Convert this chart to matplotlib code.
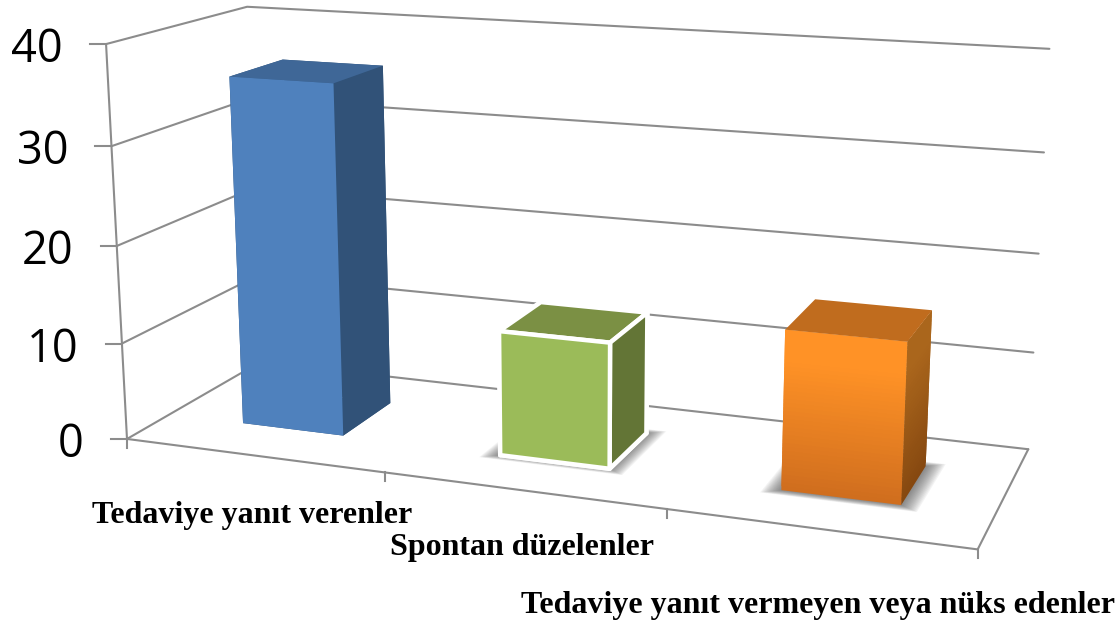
import numpy as np
import matplotlib
matplotlib.use('Agg')
import matplotlib.pyplot as plt
from matplotlib.lines import Line2D
from mpl_toolkits.mplot3d import proj3d
from mpl_toolkits.mplot3d.art3d import Poly3DCollection

categories = ['Tedaviye yanıt verenler', 'Spontan düzelenler', 'Tedaviye yanıt vermeyen veya nüks edenler']
values = [36, 12.7, 15.7]
z_ticks = [0, 10, 20, 30, 40]

# text position of each category label, in pixels of the 1115x621 picture
label_x = [92, 390, 521]
label_y = [515, 547, 606]

W, H = 1115, 621
# camera found by fitting the frame corners of the picture
ELEV, AZIM, ROLL, FOCAL = 14.094, -69.736, 0.030, 0.4131
ASPECT = (1, 0.3286, 0.4676)
SCALE, OX, OY = 5296.28, 574.276, 249.773

GRID = '#8c8c8c'
LW = 1.5
bar_w = 0.4
bar_d = 0.4
bar_y = 0.3

fig = plt.figure(figsize=(W / 100, H / 100), dpi=100, facecolor='w')
# the 2d view limits of a 3d axes are fixed at -0.095..0.09, so place the axes from them
side = SCALE * 0.185
ax = fig.add_axes([(OX - 0.095 * SCALE) / W, (H - (OY + 0.095 * SCALE)) / H, side / W, side / H],
                  projection='3d', computed_zorder=False)
ax.set_xlim(0, 3)
ax.set_ylim(0, 1)
ax.set_zlim(0, 40)
ax.view_init(ELEV, AZIM, ROLL)
ax.set_proj_type('persp', focal_length=FOCAL)
ax.set_box_aspect(ASPECT)
ax.set_axis_off()
M = ax.get_proj()


def line3(xs, ys, zs):
    ax.plot(xs, ys, zs, color=GRID, lw=LW, zorder=1, solid_capstyle='round')


def to2d(x, y, z):
    tx, ty, _ = proj3d.proj_transform(x, y, z, M)
    return tx, ty


def stub(x, y, z, dx_px, dy_px):
    tx, ty = to2d(x, y, z)
    ax.add_artist(Line2D([tx, tx + dx_px / SCALE], [ty, ty + dy_px / SCALE], color=GRID, lw=LW, zorder=1))


def quad(pts, color, alpha=None, zorder=3):
    ax.add_collection3d(Poly3DCollection([pts], facecolor=color, edgecolor='none', alpha=alpha, zorder=zorder))


# frame, grid and ticks
for z in z_ticks:
    line3([0, 0, 3], [0, 1, 1], [z, z, z])
    stub(0, 0, z, -16, 0)
    tx, ty = to2d(0, 0, z)
    ax.annotate(str(z), xy=(tx, ty), xycoords='data', xytext=(-43, -6), textcoords='offset pixels',
                ha='right', va='center', fontsize=32.5, family='Open Sans', color='k')
line3([0, 0], [0, 0], [0, 40])
line3([0, 3, 3], [0, 0, 1], [0, 0, 0])
for i in range(len(categories) + 1):
    stub(i, 0, 0, 0, -9)


def shadow(x, value_pad=0.06, layers=14):
    for k in range(layers):
        pad = value_pad * (1 - k / layers)
        pad_y = pad * 0.75
        x0, x1 = x - pad, x + bar_w + pad
        y0, y1 = bar_y - pad_y, bar_y + bar_d + pad_y
        quad([(x0, y0, 0), (x1, y0, 0), (x1, y1, 0), (x0, y1, 0)], '#404040', alpha=0.06, zorder=2)


# bar3d face order: bottom, top, front, back, left, right
x1, x2, x3 = 0.3, 1.3, 2.3

ax.bar3d(x1, bar_y, 0, bar_w, bar_d, values[0], shade=False, zorder=3,
         color=['#2f5279', '#3f6797', '#4f81bd', '#2f5279', '#2f5279', '#315278'])

shadow(x2)
ax.bar3d(x2, bar_y, 0, bar_w, bar_d, values[1], shade=False, zorder=3,
         color=['#637536', '#7b9044', '#9bbb59', '#637536', '#637536', '#637536'],
         edgecolor='white', linewidth=3.2)

shadow(x3)
# orange bar has a vertical gradient: overlapping slices of its two visible sides, then the top
levels = np.linspace(0, values[2], 41)
front_low, front_high = np.array([0xd0, 0x6e, 0x1e]), np.array([0xff, 0x92, 0x26])
side_low, side_high = np.array([0x86, 0x48, 0x10]), np.array([0xaa, 0x66, 0x1c])
xa, xb = x3, x3 + bar_w
ya, yb = bar_y, bar_y + bar_d
for i, lo in enumerate(levels[:-1]):
    hi = levels[min(i + 2, len(levels) - 1)]
    t = min(1, (lo / values[2]) / 0.8)
    front = tuple((front_low + (front_high - front_low) * t) / 255)
    right = tuple((side_low + (side_high - side_low) * t) / 255)
    quad([(xa, ya, lo), (xb, ya, lo), (xb, ya, hi), (xa, ya, hi)], front)
    quad([(xb, ya, lo), (xb, yb, lo), (xb, yb, hi), (xb, ya, hi)], right)
top = values[2]
quad([(xa, ya, top), (xb, ya, top), (xb, yb, top), (xa, yb, top)], '#c06c1e')

for name, px, py in zip(categories, label_x, label_y):
    fig.text(px / W, 1 - py / H, name, ha='left', va='center', fontsize=23, fontweight='bold',
             family='Liberation Serif', color='k')

fig.savefig('out.png', dpi=100)
